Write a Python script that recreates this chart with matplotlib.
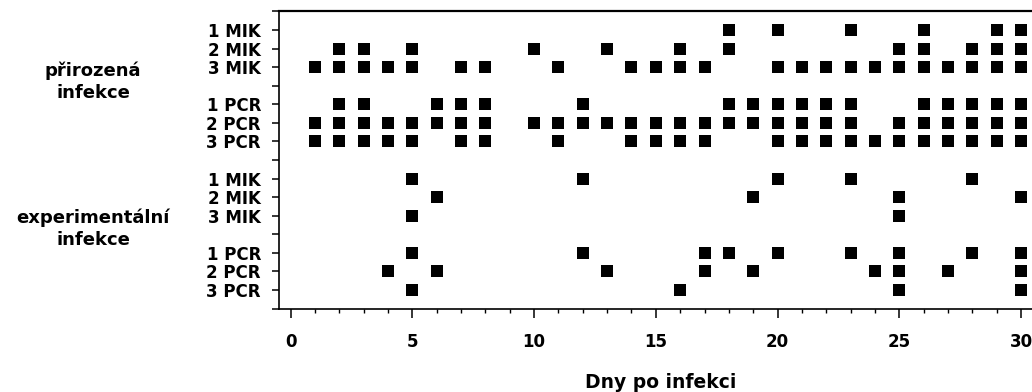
import matplotlib
matplotlib.use('Agg')
import matplotlib.pyplot as plt
import matplotlib.transforms as mtransforms
from matplotlib.ticker import MultipleLocator

# days with a positive result, one list per row (top to bottom)
row_labels = ['1 MIK', '2 MIK', '3 MIK', '1 PCR', '2 PCR', '3 PCR',
              '1 MIK', '2 MIK', '3 MIK', '1 PCR', '2 PCR', '3 PCR']
row_pos = [1, 2, 3, 5, 6, 7, 9, 10, 11, 13, 14, 15]

nat_1mik = [18, 20, 23, 26, 29, 30]
nat_2mik = [2, 3, 5, 10, 13, 16, 18, 25, 26, 28, 29, 30]
nat_3mik = [1, 2, 3, 4, 5, 7, 8, 11, 14, 15, 16, 17, 20, 21, 22, 23, 24, 25, 26, 27, 28, 29, 30]
nat_1pcr = [2, 3, 6, 7, 8, 12, 18, 19, 20, 21, 22, 23, 26, 27, 28, 29, 30]
nat_2pcr = [1, 2, 3, 4, 5, 6, 7, 8, 10, 11, 12, 13, 14, 15, 16, 17, 18, 19, 20, 21, 22, 23,
            25, 26, 27, 28, 29, 30]
nat_3pcr = [1, 2, 3, 4, 5, 7, 8, 11, 14, 15, 16, 17, 20, 21, 22, 23, 24, 25, 26, 27, 28, 29, 30]
exp_1mik = [5, 12, 20, 23, 28]
exp_2mik = [6, 19, 25, 30]
exp_3mik = [5, 25]
exp_1pcr = [5, 12, 17, 18, 20, 23, 25, 28, 30]
exp_2pcr = [4, 6, 13, 17, 19, 24, 25, 27, 30]
exp_3pcr = [5, 16, 25, 30]

rows = [nat_1mik, nat_2mik, nat_3mik, nat_1pcr, nat_2pcr, nat_3pcr,
        exp_1mik, exp_2mik, exp_3mik, exp_1pcr, exp_2pcr, exp_3pcr]

group_labels = ['přirozená\ninfekce', 'experimentální\ninfekce']
group_pos = [3.8, 11.7]

plt.rcParams['font.family'] = 'DejaVu Sans'
plt.rcParams['font.weight'] = 'bold'

fig = plt.figure(figsize=(10.32, 3.92), dpi=100)
ax = fig.add_axes([0.2703, 0.2128, 0.7403, 0.7581])

for days, pos in zip(rows, row_pos):
    ax.plot(days, [pos] * len(days), 's', color='black', ms=8.3, mew=0, clip_on=False)

ax.set_xlim(-0.48, 30.9)
ax.set_ylim(16, 0)

# y ticks at every slot, labels only on the data rows
ax.set_yticks(range(17))
ylabs = [''] * 17
for lab, pos in zip(row_labels, row_pos):
    ylabs[pos] = lab
ax.set_yticklabels(ylabs, fontsize=12, fontweight='bold')
ax.tick_params(axis='y', length=5, width=1.1, pad=8)

ax.xaxis.set_major_locator(MultipleLocator(5))
ax.xaxis.set_minor_locator(MultipleLocator(1))
ax.tick_params(axis='x', which='major', length=6.5, width=1.1, pad=11, labelsize=12)
ax.tick_params(axis='x', which='minor', length=2.6, width=1.0)
for lab in ax.get_xticklabels():
    lab.set_fontweight('bold')

for s in ax.spines.values():
    s.set_linewidth(1.2)
ax.spines['top'].set_linewidth(1.6)

ax.set_xlabel('Dny po infekci', fontsize=13.5, fontweight='bold', labelpad=16)

trans = mtransforms.blended_transform_factory(fig.transFigure, ax.transData)
for txt, pos in zip(group_labels, group_pos):
    fig.text(93 / 1032, pos, txt, transform=trans, ha='center', va='center',
             fontsize=13, fontweight='bold', multialignment='center', linespacing=1.3)

fig.savefig('out.png', dpi=100)
